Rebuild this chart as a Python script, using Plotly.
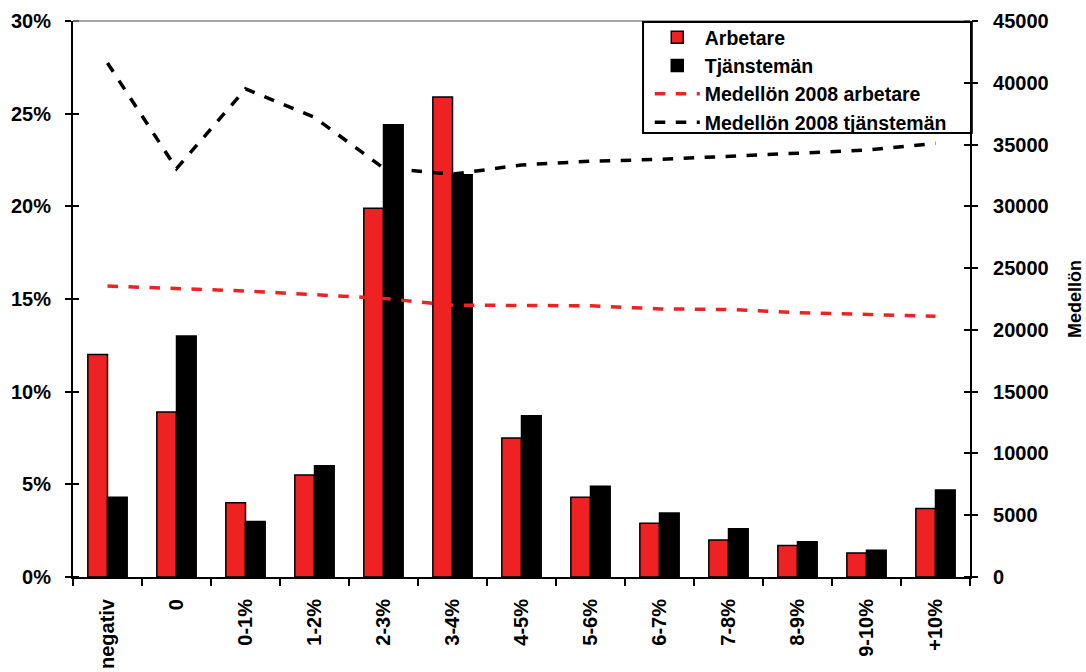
import plotly.graph_objects as go

categories = ["negativ", "0", "0-1%", "1-2%", "2-3%", "3-4%", "4-5%", "5-6%",
              "6-7%", "7-8%", "8-9%", "9-10%", "+10%"]
arbetare = [12.0, 8.9, 4.0, 5.5, 19.9, 25.9, 7.5, 4.3, 2.9, 2.0, 1.7, 1.3, 3.7]
tjansteman = [4.3, 13.0, 3.0, 6.0, 24.4, 21.7, 8.7, 4.9, 3.45, 2.6, 1.9, 1.45, 4.7]
medel_arbetare = [23550, 23370, 23150, 22850, 22550, 22000, 22000, 21950,
                  21700, 21650, 21400, 21250, 21100]
medel_tjansteman = [41600, 33050, 39500, 37200, 33100, 32600, 33350, 33650,
                    33800, 34050, 34300, 34550, 35100]

RED = "#EE2222"
FONT = "Liberation Sans"

fig = go.Figure()
fig.add_trace(go.Bar(x=categories, y=arbetare, name="Arbetare",
                     marker=dict(color=RED, line=dict(color="black", width=1.5))))
fig.add_trace(go.Bar(x=categories, y=tjansteman, name="Tjänstemän",
                     marker=dict(color="black", line=dict(color="black", width=1.5))))
fig.add_trace(go.Scatter(x=categories, y=medel_arbetare, name="Medellön 2008 arbetare",
                         mode="lines", yaxis="y2",
                         line=dict(color=RED, width=3.5, dash="dash")))
fig.add_trace(go.Scatter(x=categories, y=medel_tjansteman, name="Medellön 2008 tjänstemän",
                         mode="lines", yaxis="y2",
                         line=dict(color="black", width=3.5, dash="dash")))

tickfont = dict(family=FONT, size=20, color="black", weight="bold")

fig.update_layout(
    width=1086, height=672,
    margin=dict(l=73, r=116, t=21, b=95),
    paper_bgcolor="white", plot_bgcolor="white",
    barmode="group", bargap=0.43, bargroupgap=0,
    font=dict(family=FONT, color="black"),
    showlegend=True,
    legend=dict(x=0.643, y=1.0054, xanchor="left", yanchor="top",
                bgcolor="rgba(0,0,0,0)", borderwidth=0,
                font=dict(family=FONT, size=19.5, color="black", weight="bold"),
                tracegroupgap=0, traceorder="normal", itemwidth=45),
    xaxis=dict(type="category", tickson="boundaries", ticks="outside", ticklen=7,
               tickwidth=2, tickcolor="black", tickangle=-90, tickfont=tickfont,
               ticklabelstandoff=12, automargin=False,
               showline=True, linecolor="black", linewidth=2, showgrid=False,
               zeroline=False),
    yaxis=dict(range=[0, 30], dtick=5, ticksuffix="%", ticks="outside", ticklen=6,
               tickwidth=2, tickcolor="black", tickfont=tickfont,
               ticklabelstandoff=10, automargin=False,
               minor=dict(dtick=5, ticks="inside", ticklen=6, tickwidth=2,
                          tickcolor="black", showgrid=False),
               showline=True, linecolor="black", linewidth=2, showgrid=False,
               zeroline=False),
    yaxis2=dict(range=[0, 45000], dtick=5000, tickformat="d", overlaying="y",
                side="right", ticks="outside", ticklen=6, tickwidth=2,
                tickcolor="black", tickfont=tickfont, tickprefix="\u00a0\u00a0",
                automargin=False,
                minor=dict(dtick=5000, ticks="inside", ticklen=6, tickwidth=2,
                           tickcolor="black", showgrid=False),
                showline=True, linecolor="black", linewidth=2,
                showgrid=False, zeroline=False,
                title=dict(text="Medellön", standoff=21,
                           font=dict(family=FONT, size=18, color="black", weight="bold"))),
    shapes=[
        dict(type="line", xref="paper", yref="paper", x0=0, x1=1, y0=1, y1=1,
             line=dict(color="#888888", width=1.5)),
        dict(type="rect", xref="paper", yref="paper", x0=0.6355, x1=1.002,
             y0=0.7986, y1=0.998, line=dict(color="black", width=2),
             fillcolor="rgba(0,0,0,0)"),
    ],
)

fig.write_html(
    "out.html",
    config={"displayModeBar": False},
    post_script="document.body.style.margin='0';document.body.style.overflow='hidden';",
)
